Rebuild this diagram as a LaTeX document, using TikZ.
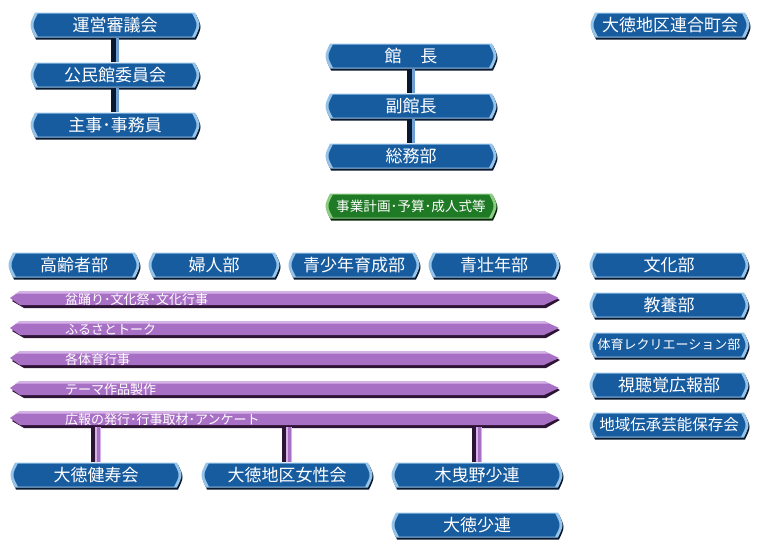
\documentclass[tikz,border=0pt]{standalone}
\usepackage{fontspec}
\setmainfont{Noto Sans CJK JP}
\definecolor{bmain}{RGB}{24,92,160}
\definecolor{blite}{RGB}{150,196,232}
\definecolor{bdark}{RGB}{8,24,48}
\definecolor{bstripe}{RGB}{110,160,210}
\definecolor{gmain}{RGB}{30,122,36}
\definecolor{glite}{RGB}{140,205,130}
\definecolor{gdark}{RGB}{6,40,10}
\definecolor{pmain}{RGB}{168,112,196}
\definecolor{plite}{RGB}{212,178,230}
\definecolor{pdark}{RGB}{45,20,52}
% #1 = half width (already computed), #2 = half height
\newcommand\capshape[2]{({-#1+3},-#2) -- ({#1-3},-#2) .. controls ({#1},{-#2/2}) and ({#1+1.5},-3) .. ({#1+1.5},0) .. controls ({#1+1.5},3) and ({#1},{#2/2}) .. ({#1-3},#2) -- ({-#1+3},#2) .. controls ({-#1},{#2/2}) and ({-#1-1.5},3) .. ({-#1-1.5},0) .. controls ({-#1-1.5},-3) and ({-#1},{-#2/2}) .. ({-#1+3},-#2) -- cycle}
\newcommand\btn[6][b]{%
  \pgfmathsetmacro\hwo{#5}\pgfmathsetmacro\hwi{#5-3}%
  \begin{scope}[shift={(#3,#4)}]
    \fill[#1dark,shift={(1,2)}] \capshape{\hwo}{12.5};
    \fill[#1lite] \capshape{\hwo}{12.5};
    \fill[#1main] \capshape{\hwi}{11.5};
  \end{scope}
  \node[btntext, minimum width=2*#5] (#2) at (#3,#4) {#6};}
\newcommand\pbar[3]{%
  \begin{scope}[shift={(0,#2)}]
    \fill[pdark] (22,-5) -- (547,-5) -- (560,1) -- (546,9) -- (24,9) -- (12,2) -- cycle;
    \fill[pmain] (20,-8) -- (544,-8) -- (559,-1) -- (544,6) -- (20,6) -- (10,-1) -- cycle;
    \fill[plite] (20,-8) -- (544,-8) -- (549,-5.5) -- (20,-5.5) -- (15,-5) -- cycle;
  \end{scope}
  \node[barbox] (#1) at (284,#2) {};
  \node[bartext] (#1t) at (65,#2+1) {#3};}
\tikzset{
  btntext/.style={text=white, inner sep=0pt, minimum height=25pt, font=\fontsize{17}{17}\selectfont},
  barbox/.style={inner sep=0pt, minimum width=548pt, minimum height=16pt},
  bartext/.style={anchor=west, text=white, inner sep=0pt, font=\fontsize{13}{13}\selectfont},
  bconn/.style={line width=8pt, draw=bdark, postaction={draw=bstripe, line width=3pt, transform canvas={xshift=2pt}}},
  pconn/.style={line width=10pt, draw=pdark, postaction={draw=plite, line width=6pt, transform canvas={xshift=2pt}}, postaction={draw=pmain, line width=2.5pt, transform canvas={xshift=2.5pt}}}
}
\begin{document}
\begin{tikzpicture}[x=1pt,y=-1pt]
\useasboundingbox (0,0) rectangle (760,550);
% left stack
\btn{unei}{115}{25}{83}{運営審議会}
\btn{iin}{115}{75}{83}{公民館委員会}
\btn{shuji}{115}{125}{83}{主事･事務員}
% center stack
\btn{kancho}{411}{56}{84}{館\hspace{19pt}長}
\btn{fuku}{411}{106}{84}{副館長}
\btn{somu}{411}{156}{84}{総務部}
\btn[g]{jigyo}{411}{206}{84}{{\fontsize{13.6}{14}\selectfont 事業計画･予算･成人式等}}
% top right
\btn{rengo}{670}{25}{78}{大徳地区連合町会}
% row of divisions
\btn{korei}{74}{265}{64}{高齢者部}
\btn{fujin}{214}{265}{64}{婦人部}
\btn{seishonen}{354}{265}{64}{青少年育成部}
\btn{seiso}{494}{265}{64}{青壮年部}
% right column
\btn{bunka}{669}{265}{78}{文化部}
\btn{kyoyo}{669}{305}{78}{教養部}
\btn{taiiku}{669}{345}{78}{{\fontsize{13}{13}\selectfont 体育レクリエーション部}}
\btn{shichokaku}{669}{385}{78}{視聴覚広報部}
\btn{dento}{669}{425}{78}{{\fontsize{15.5}{16}\selectfont 地域伝承芸能保存会}}
% bars
\pbar{b1}{299}{盆踊り･文化祭･文化行事}
\pbar{b2}{329}{ふるさとトーク}
\pbar{b3}{359}{各体育行事}
\pbar{b4}{389}{テーマ作品製作}
\pbar{b5}{419}{広報の発行･行事取材･アンケート}
% bottom
\btn{kenju}{96}{475}{84}{大徳健寿会}
\btn{josei}{287}{475}{84}{大徳地区女性会}
\btn{kibikino}{477}{475}{84}{木曳野少連}
\btn{shoren}{477}{525}{84}{大徳少連}
% connectors
\draw[bconn] (unei.south) -- (iin.north);
\draw[bconn] (iin.south) -- (shuji.north);
\draw[bconn] (kancho.south) -- (fuku.north);
\draw[bconn] (fuku.south) -- (somu.north);
\draw[pconn] (b5.south -| kenju.north) -- (kenju.north);
\draw[pconn] (b5.south -| josei.north) -- (josei.north);
\draw[pconn] (b5.south -| kibikino.north) -- (kibikino.north);
\end{tikzpicture}
\end{document}
